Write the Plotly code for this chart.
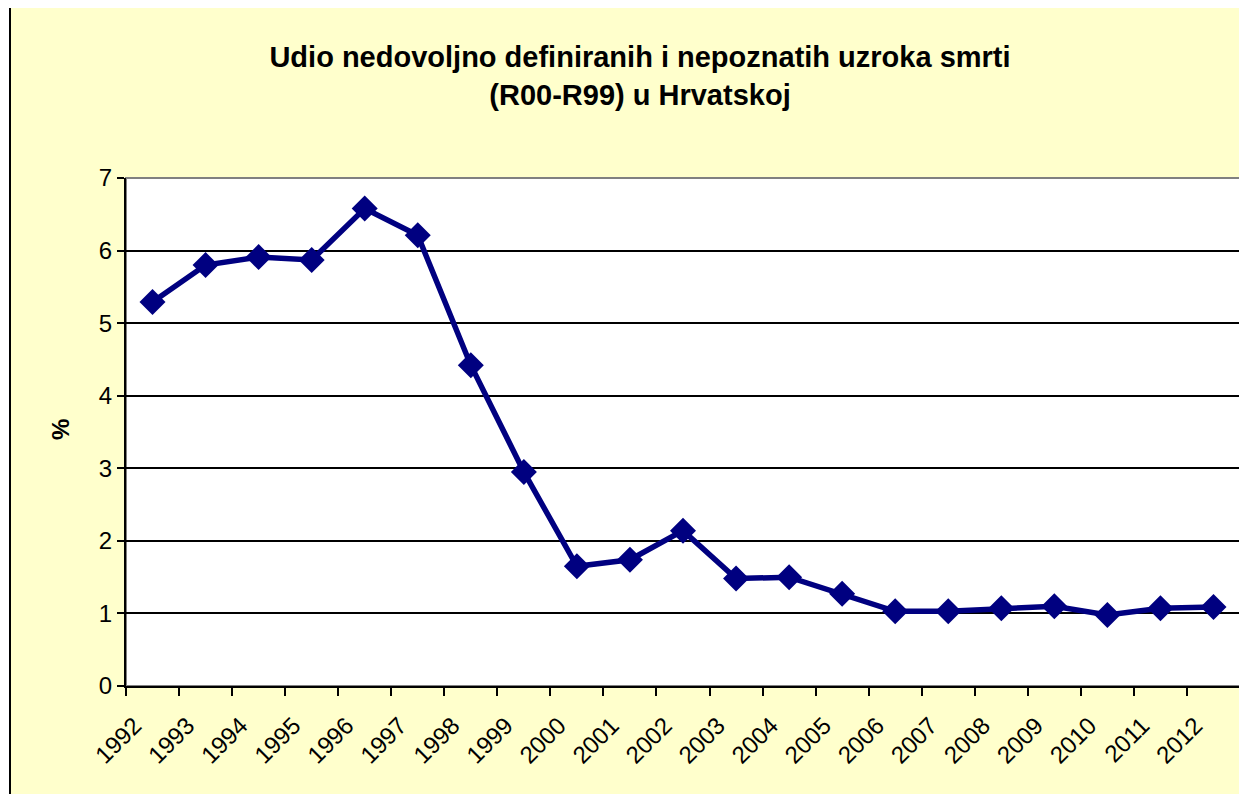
import plotly.graph_objects as go

years = [str(y) for y in range(1992, 2013)]
values = [5.29, 5.80, 5.91, 5.87, 6.58, 6.21, 4.42, 2.95, 1.65, 1.74, 2.14,
          1.48, 1.50, 1.27, 1.03, 1.03, 1.07, 1.10, 0.98, 1.07, 1.09]

title_text = "<b>Udio nedovoljno definiranih i nepoznatih uzroka smrti<br>(R00-R99) u Hrvatskoj</b>"
y_title = "<b>%</b>"

# page body has an 8px default margin; target pixel coords are shifted by it
OFF = 8
W, H = 1247 - OFF, 794 - OFF
PL, PR, PT, PB = 126, 1240, 178, 686  # plot area in target pixels
L, R, T, B = PL - OFF, W - (PR - OFF), PT - OFF, H - (PB - OFF)
pw, ph = W - L - R, H - T - B

def px_x(p):
    return (p - OFF - L) / pw

def px_y(p):
    return (H - B - (p - OFF)) / ph

FONT = "Liberation Sans, Arial, sans-serif"

fig = go.Figure()
fig.add_trace(go.Scatter(
    x=years, y=values, mode="lines+markers",
    line=dict(color="#000080", width=5.5),
    marker=dict(symbol="diamond", size=20, color="#000080"),
    showlegend=False,
))

fig.update_layout(
    width=W, height=H,
    margin=dict(l=L, r=R, t=T, b=B),
    paper_bgcolor="white",
    plot_bgcolor="white",
    font=dict(family=FONT, color="black"),
    title=dict(text=title_text, x=(640 - OFF) / W, xanchor="center",
               y=1 - (67 - OFF) / H, yanchor="middle",
               font=dict(size=29, family=FONT, color="black")),
    shapes=[
        dict(type="rect", xref="paper", yref="paper", layer="below",
             x0=px_x(10), x1=px_x(1260), y0=px_y(810), y1=px_y(7),
             fillcolor="#FFFFCC", line=dict(color="black", width=2)),
        dict(type="rect", xref="paper", yref="paper", layer="below",
             x0=0, x1=1, y0=0, y1=1,
             fillcolor="white", line=dict(color="#808080", width=2)),
    ],
    annotations=[
        dict(text=y_title, xref="paper", yref="paper",
             x=px_x(60), y=px_y(430), xanchor="center", yanchor="middle",
             textangle=-90, showarrow=False, font=dict(size=24, family=FONT, color="black")),
    ],
)

fig.update_xaxes(
    type="category", range=[-0.5, 20.5],
    showgrid=False, zeroline=False,
    showline=True, linecolor="black", linewidth=2,
    ticks="outside", tickson="boundaries", ticklen=8, tickwidth=2, tickcolor="black",
    tickangle=-45, tickfont=dict(size=24),
    ticklabelshift=-18, ticklabelstandoff=14,
)
fig.update_yaxes(
    range=[0, 7], dtick=1,
    showgrid=True, gridcolor="black", gridwidth=2,
    zeroline=False,
    showline=True, linecolor="black", linewidth=2,
    ticks="outside", ticklen=7, tickwidth=2, tickcolor="black",
    tickfont=dict(size=24),
)

fig.write_html("out.html")
